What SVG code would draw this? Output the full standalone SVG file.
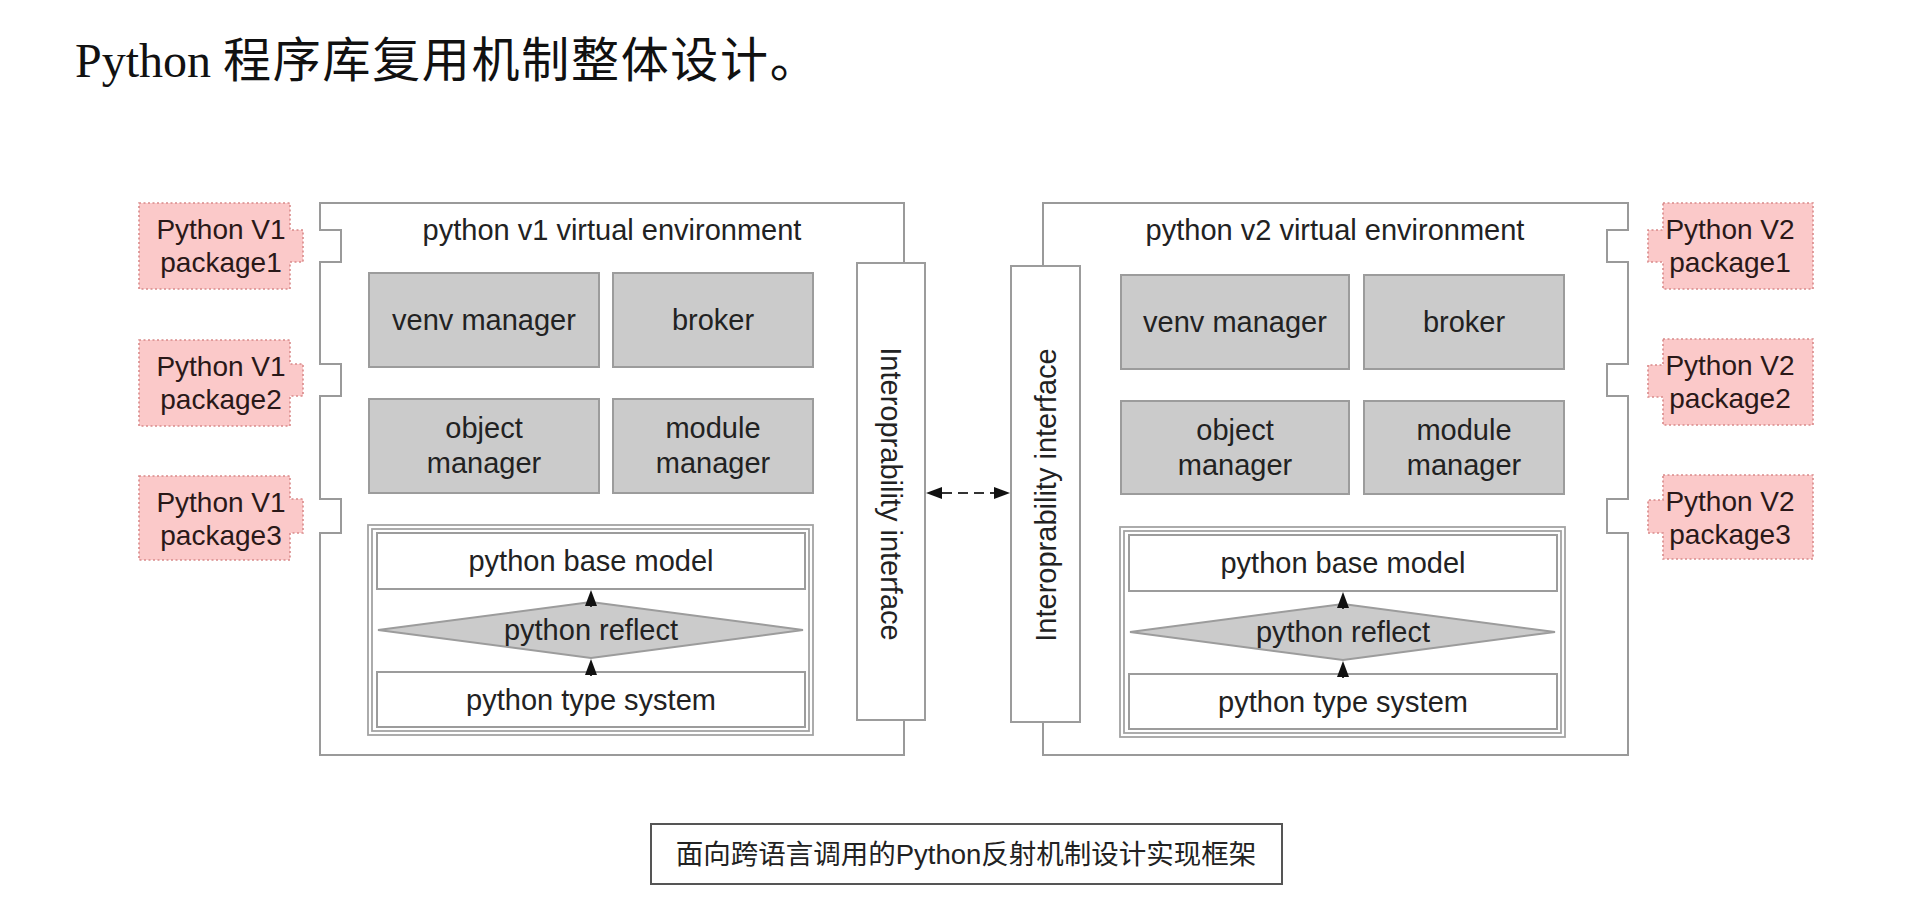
<svg xmlns="http://www.w3.org/2000/svg" width="1908" height="918" viewBox="0 0 1908 918">
<style>
  text { font-family: "Liberation Sans", "Noto Sans CJK SC", sans-serif; fill: #222; }
  .env { fill: #fff; stroke: #9a9a9a; stroke-width: 2; }
  .pkg { fill: #fbc9c9; stroke: #d98a8a; stroke-width: 1.6; stroke-dasharray: 2 2.5; }
  .pkgt { font-size: 28px; text-anchor: middle; fill: #2a1818; }
  .gray { fill: #cbcbcb; stroke: #9c9c9c; stroke-width: 2; }
  .wbox { fill: #fff; stroke: #9c9c9c; stroke-width: 2; }
  .grp { fill: none; stroke: #a3a3a3; stroke-width: 1.8; }
  .lbl { font-size: 29px; text-anchor: middle; }
  .conn { stroke: #333; stroke-width: 2; fill: none; }
</style>
<defs>
  <marker id="ah" viewBox="0 0 16 12" refX="0" refY="6" markerWidth="16" markerHeight="12" markerUnits="userSpaceOnUse" orient="auto-start-reverse">
    <path d="M0,0 L16,6 L0,12 Z" fill="#111"/>
  </marker>
</defs>
<rect width="1908" height="918" fill="#fff"/>

<g id="title">
  <text x="75" y="77" style="font-family:'Liberation Serif','Noto Sans CJK SC',serif;font-size:48px;fill:#111">Python <tspan style="letter-spacing:1.7px">程序库复用机制整体设计。</tspan></text>
</g>

<!-- V1 environment -->
<g id="v1-env">
  <path class="env" d="M320,203 H904 V755 H320 V533 H341 V499 H320 V396 H341 V364 H320 V262 H341 V230 H320 Z"/>
  <text class="lbl" x="612" y="240">python v1 virtual environment</text>
</g>
<g id="v1-pkg1">
  <path class="pkg" d="M139,203 H290 V230 H303 V262 H290 V289 H139 Z"/>
  <text class="pkgt" x="221" y="239">Python V1</text>
  <text class="pkgt" x="221" y="272">package1</text>
</g>
<g id="v1-pkg2">
  <path class="pkg" d="M139,340 H290 V364 H303 V396 H290 V426 H139 Z"/>
  <text class="pkgt" x="221" y="376">Python V1</text>
  <text class="pkgt" x="221" y="409">package2</text>
</g>
<g id="v1-pkg3">
  <path class="pkg" d="M139,476 H290 V499 H303 V533 H290 V560 H139 Z"/>
  <text class="pkgt" x="221" y="512">Python V1</text>
  <text class="pkgt" x="221" y="545">package3</text>
</g>
<g id="v1-venv">
  <rect class="gray" x="369" y="273" width="230" height="94"/>
  <text class="lbl" x="484" y="330">venv manager</text>
</g>
<g id="v1-broker">
  <rect class="gray" x="613" y="273" width="200" height="94"/>
  <text class="lbl" x="713" y="330">broker</text>
</g>
<g id="v1-object">
  <rect class="gray" x="369" y="399" width="230" height="94"/>
  <text class="lbl" x="484" y="438">object</text>
  <text class="lbl" x="484" y="473">manager</text>
</g>
<g id="v1-module">
  <rect class="gray" x="613" y="399" width="200" height="94"/>
  <text class="lbl" x="713" y="438">module</text>
  <text class="lbl" x="713" y="473">manager</text>
</g>
<g id="v1-core">
  <rect class="grp" x="368" y="525" width="445" height="210"/>
  <rect class="grp" x="372" y="529" width="437" height="202"/>
</g>
<g id="v1-base">
  <rect class="wbox" x="377" y="533" width="428" height="56"/>
  <text class="lbl" x="591" y="571">python base model</text>
</g>
<g id="v1-reflect">
  <polygon class="gray" points="378,630 591,602 803,630 591,658"/>
  <text class="lbl" x="591" y="640">python reflect</text>
</g>
<g id="v1-type">
  <rect class="wbox" x="377" y="672" width="428" height="55"/>
  <text class="lbl" x="591" y="710">python type system</text>
</g>
<g id="v1-interface">
  <rect class="wbox" x="857" y="263" width="68" height="457"/>
  <text class="lbl" transform="translate(891,494) rotate(90)" x="0" y="10">Interoprability interface</text>
</g>

<!-- V2 environment -->
<g id="v2-env">
  <path class="env" d="M1043,203 H1628 V230 H1607 V262 H1628 V364 H1607 V396 H1628 V499 H1607 V533 H1628 V755 H1043 Z"/>
  <text class="lbl" x="1335" y="240">python v2 virtual environment</text>
</g>
<g id="v2-pkg1">
  <path class="pkg" d="M1663,203 H1813 V289 H1663 V262 H1648 V230 H1663 Z"/>
  <text class="pkgt" x="1730" y="239">Python V2</text>
  <text class="pkgt" x="1730" y="272">package1</text>
</g>
<g id="v2-pkg2">
  <path class="pkg" d="M1663,339 H1813 V425 H1663 V397 H1648 V365 H1663 Z"/>
  <text class="pkgt" x="1730" y="375">Python V2</text>
  <text class="pkgt" x="1730" y="408">package2</text>
</g>
<g id="v2-pkg3">
  <path class="pkg" d="M1663,475 H1813 V559 H1663 V533 H1648 V500 H1663 Z"/>
  <text class="pkgt" x="1730" y="511">Python V2</text>
  <text class="pkgt" x="1730" y="544">package3</text>
</g>
<g id="v2-venv">
  <rect class="gray" x="1121" y="275" width="228" height="94"/>
  <text class="lbl" x="1235" y="332">venv manager</text>
</g>
<g id="v2-broker">
  <rect class="gray" x="1364" y="275" width="200" height="94"/>
  <text class="lbl" x="1464" y="332">broker</text>
</g>
<g id="v2-object">
  <rect class="gray" x="1121" y="401" width="228" height="93"/>
  <text class="lbl" x="1235" y="440">object</text>
  <text class="lbl" x="1235" y="475">manager</text>
</g>
<g id="v2-module">
  <rect class="gray" x="1364" y="401" width="200" height="93"/>
  <text class="lbl" x="1464" y="440">module</text>
  <text class="lbl" x="1464" y="475">manager</text>
</g>
<g id="v2-core">
  <rect class="grp" x="1120" y="527" width="445" height="210"/>
  <rect class="grp" x="1124" y="531" width="437" height="202"/>
</g>
<g id="v2-base">
  <rect class="wbox" x="1129" y="535" width="428" height="56"/>
  <text class="lbl" x="1343" y="573">python base model</text>
</g>
<g id="v2-reflect">
  <polygon class="gray" points="1130,632 1343,604 1555,632 1343,660"/>
  <text class="lbl" x="1343" y="642">python reflect</text>
</g>
<g id="v2-type">
  <rect class="wbox" x="1129" y="674" width="428" height="55"/>
  <text class="lbl" x="1343" y="712">python type system</text>
</g>
<g id="v2-interface">
  <rect class="wbox" x="1011" y="266" width="69" height="456"/>
  <text class="lbl" transform="translate(1045.5,495) rotate(-90)" x="0" y="10">Interoprability interface</text>
</g>

<!-- connectors -->
<g id="connectors">
  <line class="conn" x1="942" y1="493" x2="994" y2="493" stroke-dasharray="10 6" marker-start="url(#ah)" marker-end="url(#ah)"/>
  <path class="conn" d="M591,607 L591,606" marker-end="url(#ah)"/>
  <path class="conn" d="M591,676 L591,675" marker-end="url(#ah)"/>
  <path class="conn" d="M1343,609 L1343,608" marker-end="url(#ah)"/>
  <path class="conn" d="M1343,678 L1343,677" marker-end="url(#ah)"/>
</g>

<g id="caption">
  <rect x="651" y="824" width="631" height="60" fill="#fff" stroke="#555" stroke-width="2"/>
  <text x="966" y="864" style="font-size:27.5px;text-anchor:middle;fill:#222">面向跨语言调用的Python反射机制设计实现框架</text>
</g>
</svg>
